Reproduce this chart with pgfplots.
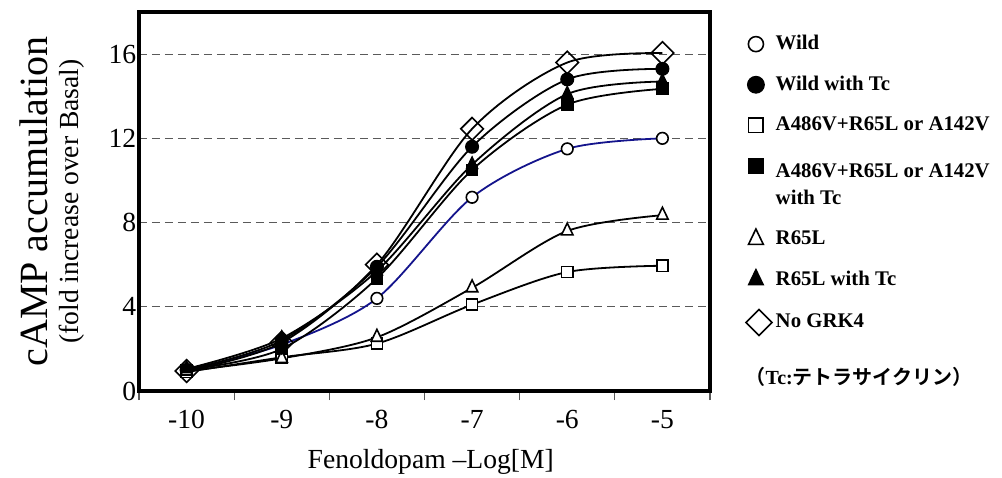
\documentclass[border=0pt]{standalone}
\usepackage{pgfplots}
\pgfplotsset{compat=1.18}
\usepackage{fontspec}
\setmainfont{Liberation Serif}
\newfontfamily\jp{Noto Sans CJK JP}[BoldFont={Noto Sans CJK JP Bold}]
\definecolor{wildblue}{RGB}{20,20,140}
\definecolor{gridgray}{RGB}{90,90,90}
\pgfplotsset{
  legsq/.style={legend image code/.code={\draw[##1,only marks,every mark/.append style={scale=1.3}] plot coordinates {(0pt,8pt)};}},
  legdia/.style={legend image code/.code={\draw[##1,only marks,every mark/.append style={scale=1.15}] plot coordinates {(1.5pt,0pt)};}},
}
\begin{document}
\begin{tikzpicture}
\useasboundingbox (-69.5pt,-43pt) rectangle (431.5pt,195.5pt);
\begin{axis}[
  at={(0pt,0pt)}, anchor=south west,
  scale only axis, width=285.5pt, height=189.5pt,
  xmin=-10.5, xmax=-4.5, ymin=0, ymax=18,
  axis line style={line width=1.7pt},
  xtick={-10,-9,-8,-7,-6,-5},
  xticklabels={-10,-9,-8,-7,-6,-5},
  minor xtick={-10.5,-9.5,-8.5,-7.5,-6.5,-5.5,-4.5},
  ytick={0,4,8,12,16},
  tick pos=left,
  tick align=outside,
  major tick length=0pt, minor tick length=4.5pt,
  major tick style={draw=none},
  minor x tick style={gridgray, line width=0.6pt},
  ymajorgrids,
  major grid style={gridgray, line width=0.55pt, dash pattern=on 4pt off 2.5pt},
  /pgf/number format/assume math mode=true,
  tick label style={font=\fontsize{13.8}{16}\selectfont},
  xticklabel style={anchor=base, yshift=-18.5pt},
  yticklabel style={xshift=2.1pt},
  xlabel={Fenoldopam –Log[M]},
  xlabel style={at={(axis description cs:0.511,0)}, anchor=base, yshift=-38.5pt, font=\fontsize{13.8}{16}\selectfont},
  ylabel={{\fontsize{20}{24}\selectfont cAMP accumulation}\\(fold increase over Basal)},
  ylabel style={at={(axis description cs:-0.152,0.5)}, anchor=center, align=center, font=\fontsize{13.8}{15.5}\selectfont},
  legend style={at={(rel axis cs:1.0622,0.9446)}, anchor=north west, draw=none, fill=none,
    inner sep=0pt, row sep=9.6pt, column sep=0.9pt,
    font=\bfseries\fontsize{10.4}{13.5}\selectfont,
    nodes={inner sep=1pt}, cells={align=left}},
  legend cell align=left,
  legend image code/.code={\draw[#1,only marks,every mark/.append style={scale=1.3}] plot coordinates {(0pt,0pt)};},
  every axis plot/.append style={line width=0.9pt, smooth},
]
\addplot[wildblue, mark=*, mark size=2.9pt, mark options={draw=black, fill=white, line width=0.8pt}]
  coordinates {(-10,1.0) (-9,2.2) (-8,4.4) (-7,9.2) (-6,11.5) (-5,12.0)};
\addlegendentry{Wild}
\addplot[black, mark=*, mark size=3.2pt, mark options={draw=black, fill=black, line width=0.6pt}]
  coordinates {(-10,1.0) (-9,2.4) (-8,5.9) (-7,11.6) (-6,14.8) (-5,15.3)};
\addlegendentry{Wild with Tc}
\addplot[black, mark=square*, mark size=2.8pt, mark options={draw=black, fill=white, line width=0.8pt}]
  coordinates {(-10,0.9) (-9,1.6) (-8,2.25) (-7,4.1) (-6,5.65) (-5,5.95)};
\addlegendentry{A486V+R65L or A142V}
\addplot[black, mark=square*, mark size=2.9pt, mark options={draw=black, fill=black, line width=0.6pt}, legsq]
  coordinates {(-10,1.0) (-9,2.0) (-8,5.35) (-7,10.5) (-6,13.6) (-5,14.35)};
\addlegendentry{\rule{0pt}{10.5pt}A486V+R65L or A142V\\with Tc}
\addplot[black, mark=triangle*, mark size=3.3pt, mark options={draw=black, fill=white, line width=0.8pt, yscale=1.2}]
  coordinates {(-10,0.95) (-9,1.55) (-8,2.55) (-7,4.9) (-6,7.6) (-5,8.35)};
\addlegendentry{R65L}
\addplot[black, mark=triangle*, mark size=3.3pt, mark options={draw=black, fill=black, line width=0.6pt, yscale=1.2}]
  coordinates {(-10,1.05) (-9,2.5) (-8,5.7) (-7,10.75) (-6,14.1) (-5,14.7)};
\addlegendentry{R65L with Tc}
\addplot[black, mark=square, mark size=4pt, mark options={draw=black, fill=none, line width=0.8pt, rotate=45}, legdia]
  coordinates {(-10,0.95) (-9,2.3) (-8,6.0) (-7,12.45) (-6,15.6) (-5,16.05)};
\addlegendentry{No GRK4}
\addlegendimage{empty legend}
\addlegendentry{\hspace*{-15pt}\rule{0pt}{14pt}\fontsize{10}{12}\selectfont{\jp （}Tc:{\jp テトラサイクリン）}}
\end{axis}
\end{tikzpicture}
\end{document}
